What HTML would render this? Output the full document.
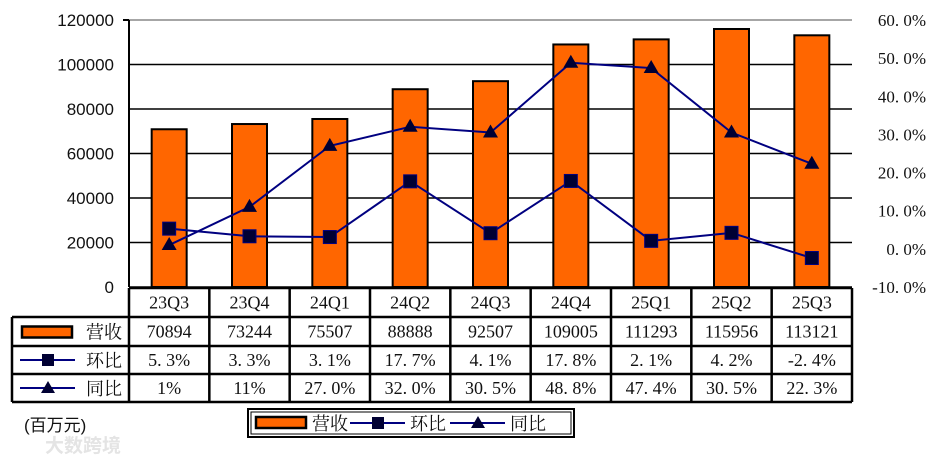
<!DOCTYPE html>
<html><head><meta charset="utf-8"><style>
body{margin:0;background:#fff}
svg text{font-family:"Liberation Serif","Noto Serif CJK SC",serif;fill:#111}
</style></head><body>
<svg id="s" width="930" height="464" xmlns="http://www.w3.org/2000/svg"></svg>
<script>
const s=document.getElementById('s');
let h='';
const L=129,R=852,T=20,B=287;
const cw=(R-L)/9;
const cats=['23Q3','23Q4','24Q1','24Q2','24Q3','24Q4','25Q1','25Q2','25Q3'];
const rev=[70894,73244,75507,88888,92507,109005,111293,115956,113121];
const hb=[5.3,3.3,3.1,17.7,4.1,17.8,2.1,4.2,-2.4];
const yy=[1,11,27,32,30.5,48.8,47.4,30.5,22.3];
const hbT=['5. 3%','3. 3%','3. 1%','17. 7%','4. 1%','17. 8%','2. 1%','4. 2%','-2. 4%'];
const yyT=['1%','11%','27. 0%','32. 0%','30. 5%','48. 8%','47. 4%','30. 5%','22. 3%'];
const yl=v=>B-v/120000*(B-T);
const yr=v=>T+(60-v)/70*(B-T);
for(let i=0;i<=6;i++){const y=B-i*(B-T)/6;
 h+=`<line x1="${L}" x2="${R}" y1="${y}" y2="${y}" stroke="${i==6?'#888':'#000'}" stroke-width="1.5"/>`;
 h+=`<text x="114" y="${y+6}" font-size="17" text-anchor="end" style="font-family:'Liberation Sans',sans-serif">${i*20000}</text>`;}
for(let i=0;i<=7;i++){const v=60-i*10;const y=yr(v);
 h+=`<text x="926" y="${y+6}" font-size="17" text-anchor="end">${v.toFixed(0)}. 0%</text>`;}
h+=`<line x1="${L}" x2="${L}" y1="${T}" y2="${B}" stroke="#000" stroke-width="2"/>`;
h+=`<line x1="${L-6}" x2="${L}" y1="${T}" y2="${T}" stroke="#000" stroke-width="2"/>`;
const cx=i=>L+cw*(i+0.5);
rev.forEach((v,i)=>{h+=`<rect x="${cx(i)-17.5}" y="${yl(v)}" width="35" height="${B-yl(v)}" fill="#ff6600" stroke="#000" stroke-width="2"/>`;});
const pl=a=>a.map((v,i)=>`${cx(i)},${yr(v)}`).join(' ');
h+=`<polyline points="${pl(yy)}" fill="none" stroke="#000080" stroke-width="2"/>`;
h+=`<polyline points="${pl(hb)}" fill="none" stroke="#000080" stroke-width="2"/>`;
hb.forEach((v,i)=>{h+=`<rect x="${cx(i)-6.5}" y="${yr(v)-6.5}" width="13" height="13" fill="#000033" stroke="#000080"/>`;});
yy.forEach((v,i)=>{const x=cx(i),y=yr(v);h+=`<polygon points="${x},${y-8} ${x-7.5},${y+5} ${x+7.5},${y+5}" fill="#000033"/>`;});
const rows=[288,317,346,374,402];
const TL=12;
h+=`<g stroke="#000" stroke-width="2.5" fill="none">`;
h+=`<line x1="${L}" x2="${R}" y1="${rows[0]}" y2="${rows[0]}"/>`;
for(let r=1;r<5;r++)h+=`<line x1="${TL}" x2="${R}" y1="${rows[r]}" y2="${rows[r]}"/>`;
h+=`<line x1="${TL}" x2="${TL}" y1="${rows[1]}" y2="${rows[4]}"/>`;
for(let i=0;i<=9;i++)h+=`<line x1="${L+cw*i}" x2="${L+cw*i}" y1="${rows[0]}" y2="${rows[4]}"/>`;
h+=`</g>`;
const cols=[cats,rev.map(String),hbT,yyT];
cols.forEach((arr,r)=>{const y=(rows[r]+rows[r+1])/2+6;arr.forEach((t,i)=>{h+=`<text x="${cx(i)}" y="${y}" font-size="18" text-anchor="middle">${t}</text>`;});});
let y1=(rows[1]+rows[2])/2;
h+=`<rect x="22" y="${y1-5}" width="50" height="11" fill="#ff6600" stroke="#000" stroke-width="2.5"/>`;
h+=`<text x="86" y="${y1+7}" font-size="18">营收</text>`;
let y2=(rows[2]+rows[3])/2;
h+=`<line x1="20" x2="75" y1="${y2}" y2="${y2}" stroke="#000080" stroke-width="2"/><rect x="42" y="${y2-6}" width="12" height="12" fill="#000033"/>`;
h+=`<text x="86" y="${y2+7}" font-size="18">环比</text>`;
let y3=(rows[3]+rows[4])/2;
h+=`<line x1="20" x2="75" y1="${y3}" y2="${y3}" stroke="#000080" stroke-width="2"/><polygon points="48,${y3-7} 41,${y3+5} 55,${y3+5}" fill="#000033"/>`;
h+=`<text x="86" y="${y3+7}" font-size="18">同比</text>`;
h+=`<text x="24" y="431" font-size="17" style="font-family:'Liberation Sans','Noto Sans CJK SC',sans-serif">(百万元)</text>`;
h+=`<text x="45" y="452" font-size="19" style="fill:#e4e4e4;font-family:'Noto Sans CJK SC',sans-serif;font-weight:bold">大数跨境</text>`;
h+=`<rect x="248" y="409" width="326" height="28" fill="#fff" stroke="#000" stroke-width="2"/>`;
h+=`<rect x="251" y="412" width="320" height="22" fill="none" stroke="#000" stroke-width="1"/>`;
h+=`<rect x="256" y="417" width="50" height="11" fill="#ff6600" stroke="#000" stroke-width="2.5"/>`;
h+=`<text x="312" y="430" font-size="18">营收</text>`;
h+=`<line x1="350" x2="405" y1="423" y2="423" stroke="#000080" stroke-width="2"/><rect x="372" y="417" width="12" height="12" fill="#000033"/>`;
h+=`<text x="410" y="430" font-size="18">环比</text>`;
h+=`<line x1="450" x2="505" y1="423" y2="423" stroke="#000080" stroke-width="2"/><polygon points="478,416 471,428 485,428" fill="#000033"/>`;
h+=`<text x="510" y="430" font-size="18">同比</text>`;
s.innerHTML=h;
</script>
</body></html>
